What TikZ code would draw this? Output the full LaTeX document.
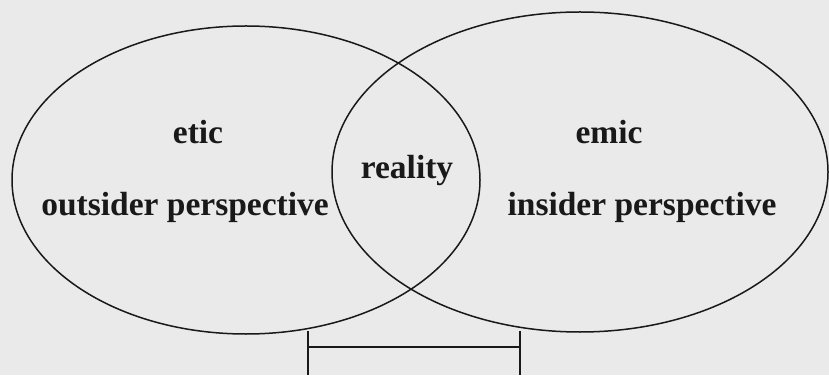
\documentclass[tikz,border=0pt]{standalone}
\usepackage{fontspec}
\setmainfont{Liberation Serif}
\usepackage{xcolor}
\usepackage{tikz}
\usetikzlibrary{shapes.geometric}
\definecolor{paper}{RGB}{234, 234, 234}
\definecolor{ink}{RGB}{25, 25, 25}

\begin{document}
\begin{tikzpicture}[x=1pt, y=1pt,
		every node/.style={font=\fontsize{33.5}{38}\selectfont\bfseries, text=ink},
		ring/.style={ellipse, draw=ink, line width=1.5pt, inner sep=0pt}]
			\fill[paper] (0,0) rectangle (829,375);
			\useasboundingbox (0,0) rectangle (829,375);
			\node[ring, minimum width=468pt, minimum height=308pt] (etic) at (246,195) {};
			\node[ring, minimum width=496pt, minimum height=320pt] (emic) at (580,203) {};
			\node (eticlabel) at (198,243) {etic};
			\node (outsider) at (185,168) {outsider perspective};
			\node (reality) at (407,205) {reality};
			\node (emiclabel) at (609,243) {emic};
			\node (insider) at (642,168) {insider perspective};
			\coordinate (lefttop) at (308,44);
			\coordinate (leftend) at (308,0);
			\coordinate (righttop) at (520,44);
			\coordinate (rightend) at (520,0);
			\coordinate (barleft) at (308,28);
			\coordinate (barright) at (520,28);
			\draw[ink, line width=1.4pt] (lefttop) -- (leftend);
			\draw[ink, line width=1.4pt] (righttop) -- (rightend);
			\draw[ink, line width=1.8pt] (barleft) -- (barright);
		\end{tikzpicture}
\end{document}
